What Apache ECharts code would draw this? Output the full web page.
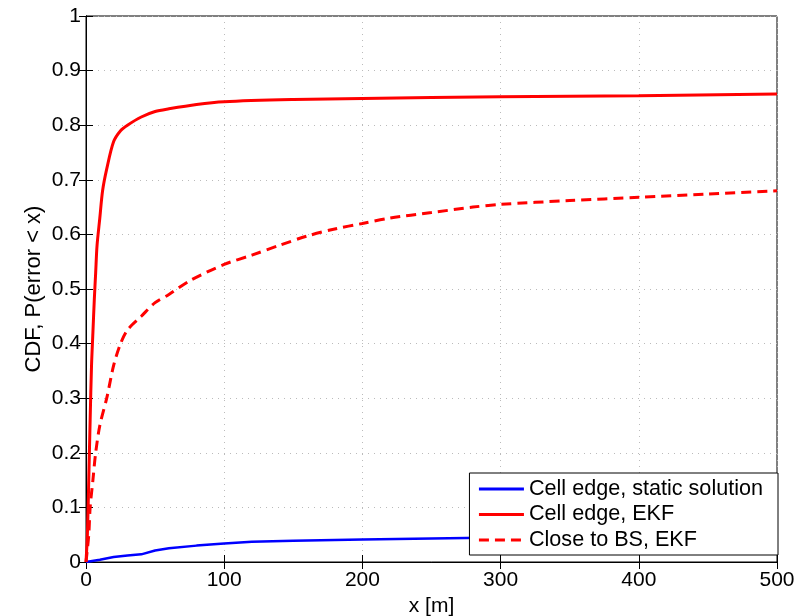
<!DOCTYPE html>
<html>
<head>
<meta charset="utf-8">
<script src="https://cdn.jsdelivr.net/npm/echarts@6/dist/echarts.min.js"></script>
<style>html,body{margin:0;padding:0;background:#fff}#c{width:807px;height:616px}</style>
</head>
<body>
<div id="c"></div>
<script>
const seriesNames = ['Cell edge, static solution', 'Cell edge, EKF', 'Close to BS, EKF'];
const xTicks = [0, 100, 200, 300, 400, 500];
const yTicks = [0, 0.1, 0.2, 0.3, 0.4, 0.5, 0.6, 0.7, 0.8, 0.9, 1];

const staticX = [0, 10, 20, 30, 40, 50, 60, 80, 100, 120, 150, 200, 250, 300, 350, 400, 450, 500];
const staticY = [0, 0.004, 0.009, 0.012, 0.014, 0.021, 0.025, 0.030, 0.034, 0.037, 0.039, 0.041, 0.043, 0.045, 0.045, 0.046, 0.046, 0.047];

const ekfX = [0, 1, 2, 3, 4, 5, 6, 7, 8, 10, 12, 15, 20, 25, 30, 40, 50, 60, 80, 100, 150, 200, 300, 400, 500];
const ekfY = [0, 0.05, 0.15, 0.26, 0.36, 0.42, 0.48, 0.53, 0.58, 0.63, 0.68, 0.72, 0.77, 0.79, 0.80, 0.815, 0.825, 0.83, 0.838, 0.843, 0.847, 0.849, 0.852, 0.854, 0.857];

const bsX = [0, 2, 3, 5, 7, 10, 15, 20, 25, 30, 40, 50, 60, 75, 100, 120, 140, 160, 180, 200, 220, 250, 280, 300, 350, 400, 450, 500];
const bsY = [0, 0.05, 0.1, 0.15, 0.2, 0.25, 0.3, 0.36, 0.40, 0.425, 0.45, 0.475, 0.49, 0.515, 0.545, 0.562, 0.58, 0.597, 0.61, 0.62, 0.63, 0.64, 0.65, 0.655, 0.662, 0.668, 0.674, 0.68];

function pairs(xs, ys) { return xs.map((x, i) => [x, ys[i]]); }

const FONT = 'Liberation Sans';
const FS = 21;
const chart = echarts.init(document.getElementById('c'));
const tickStyle = { inside: true, length: 7, lineStyle: { color: '#000', width: 1 } };
const gridLine = { show: true, lineStyle: { color: '#bbbbbb', type: [1, 5], width: 1 } };

chart.setOption({
  animation: false,
  backgroundColor: '#fff',
  grid: { left: 86, top: 16, right: 30, bottom: 54, show: true, borderColor: '#000', borderWidth: 1,
    backgroundColor: 'transparent', outerBoundsMode: 'none', containLabel: false },
  xAxis: [
    { type: 'value', min: xTicks[0], max: xTicks[xTicks.length - 1], interval: 100, position: 'bottom',
      name: 'x [m]', nameLocation: 'middle', nameGap: 30,
      nameTextStyle: { fontFamily: FONT, fontSize: FS, color: '#000' },
      axisLine: { show: true, lineStyle: { color: '#000', width: 1 } },
      axisTick: tickStyle,
      axisLabel: { fontFamily: FONT, fontSize: FS, color: '#000', margin: 8 },
      splitLine: gridLine },
    { type: 'value', min: xTicks[0], max: xTicks[xTicks.length - 1], interval: 100, position: 'top',
      axisLine: { show: true, lineStyle: { color: '#000', width: 1 } },
      axisTick: tickStyle, axisLabel: { show: false }, splitLine: { show: false } }
  ],
  yAxis: [
    { type: 'value', min: 0, max: 1, interval: 0.1, position: 'left',
      name: 'CDF, P(error < x)', nameLocation: 'middle', nameGap: 41, nameRotate: 90,
      nameMoveOverlap: false,
      nameTextStyle: { fontFamily: FONT, fontSize: 22, color: '#000' },
      axisLine: { show: true, lineStyle: { color: '#000', width: 1 } },
      axisTick: tickStyle,
      axisLabel: { fontFamily: FONT, fontSize: FS, color: '#000', margin: 5,
        formatter: v => (Math.round(v * 10) / 10).toString() },
      splitLine: gridLine },
    { type: 'value', min: 0, max: 1, interval: 0.1, position: 'right',
      axisLine: { show: true, lineStyle: { color: '#000', width: 1 } },
      axisTick: tickStyle, axisLabel: { show: false }, splitLine: { show: false } }
  ],
  legend: {
    orient: 'vertical', right: 29, bottom: 61,
    backgroundColor: '#fff', borderColor: '#000', borderWidth: 1, borderRadius: 0,
    padding: [5, 15, 4, 8], itemGap: 3.5, itemWidth: 45, itemHeight: 14,
    itemStyle: { opacity: 0 },
    lineStyle: { width: 3 },
    textStyle: { fontFamily: FONT, fontSize: 21.6, color: '#000', lineHeight: 22 },
    data: seriesNames
  },
  series: [
    { name: seriesNames[0], type: 'line', symbol: 'none', xAxisIndex: 0, yAxisIndex: 0,
      data: pairs(staticX, staticY), z: 3,
      lineStyle: { color: '#0000ff', width: 2.5 }, itemStyle: { color: '#0000ff' } },
    { name: seriesNames[1], type: 'line', symbol: 'none', xAxisIndex: 0, yAxisIndex: 0,
      data: pairs(ekfX, ekfY), smooth: 0.3,
      lineStyle: { color: '#ff0000', width: 3 }, itemStyle: { color: '#ff0000' } },
    { name: seriesNames[2], type: 'line', symbol: 'none', xAxisIndex: 0, yAxisIndex: 0,
      data: pairs(bsX, bsY), smooth: 0.3,
      lineStyle: { color: '#ff0000', width: 3, type: [10, 6] }, itemStyle: { color: '#ff0000' } }
  ]
});
</script>
</body>
</html>
